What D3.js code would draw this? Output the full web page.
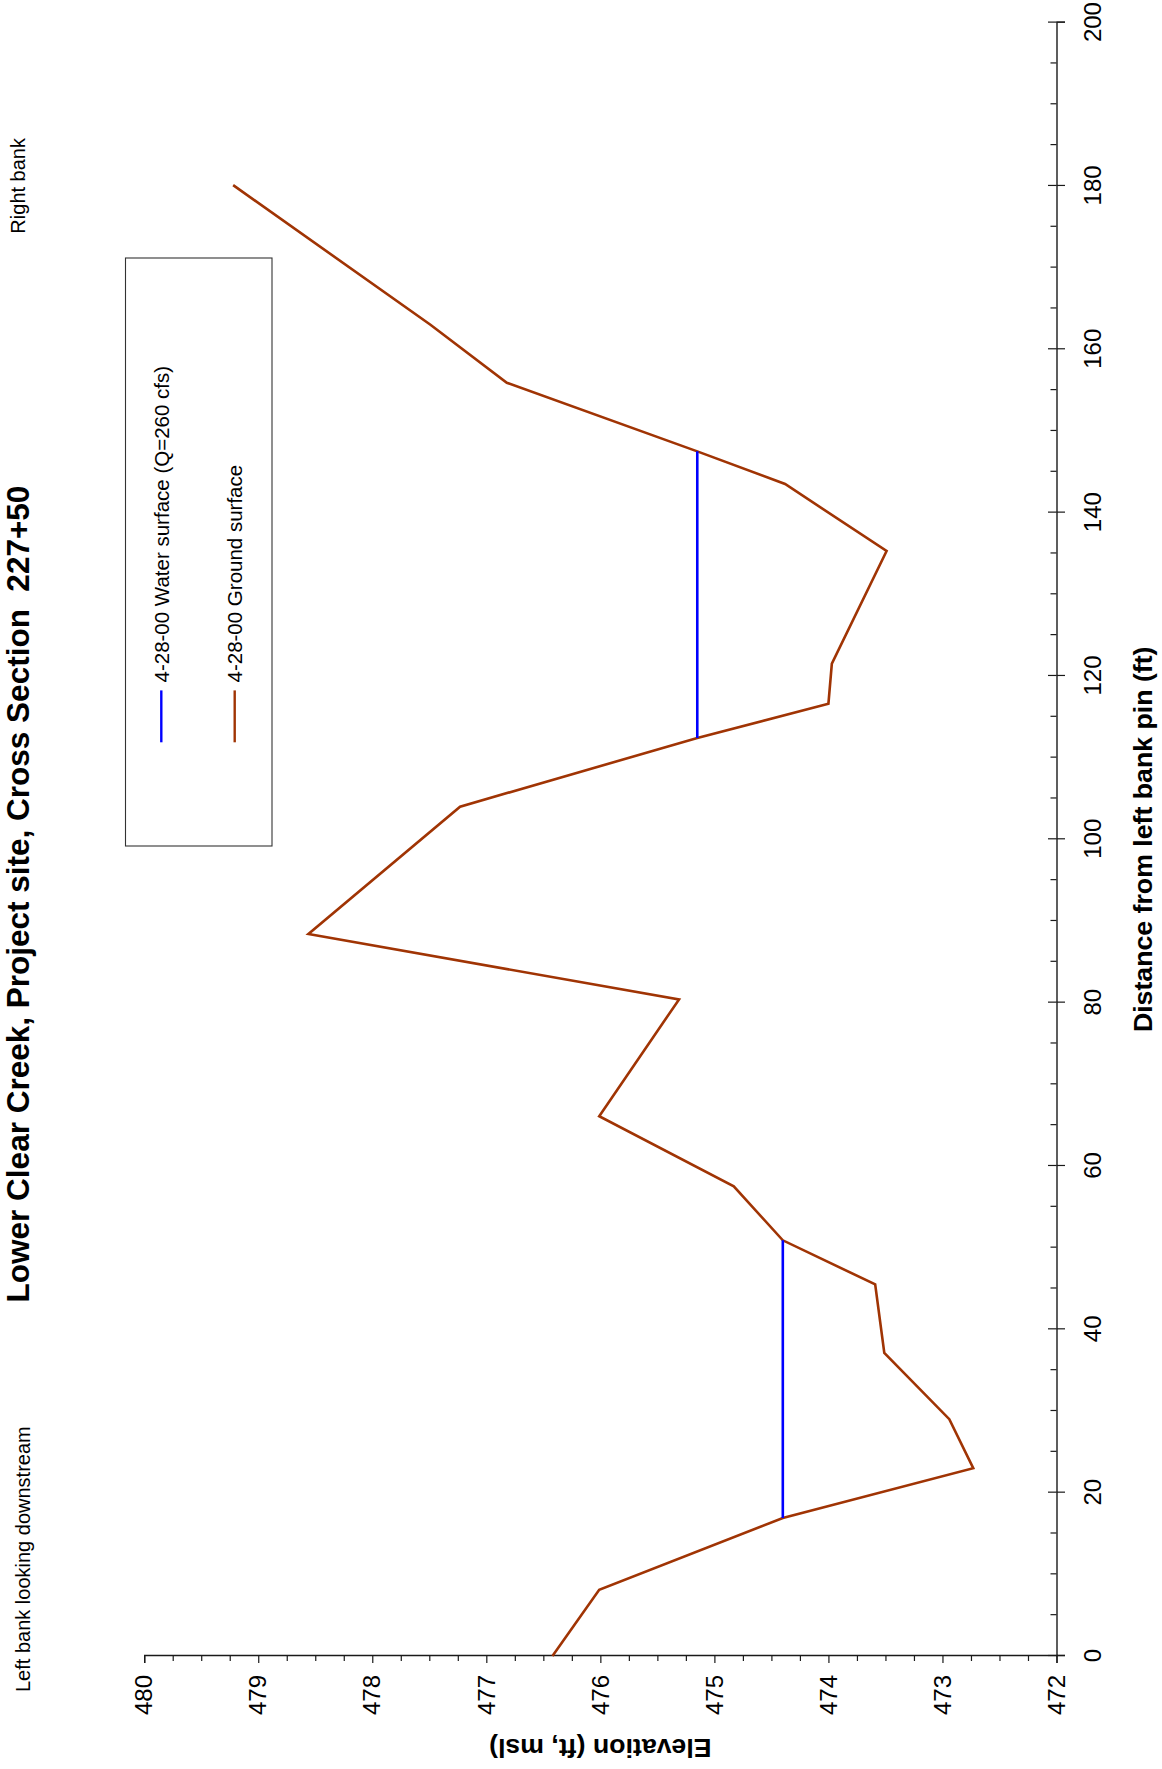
<!DOCTYPE html>
<html>
<head>
<meta charset="utf-8">
<script src="https://cdn.jsdelivr.net/npm/d3@7"></script>
<style>
  html, body { margin: 0; padding: 0; background: #fff; }
  svg { display: block; }
</style>
</head>
<body>
<script>
// Surveyed ground profile across the channel, 4-28-00
const groundDistance = [0, 8.1, 16.9, 23.0, 29.0, 37.1, 45.5, 50.9, 57.5, 66.1, 80.4, 88.4,
                        104.0, 112.4, 116.6, 121.5, 135.3, 143.5, 147.5, 155.9, 163.0, 180.1];
const groundElevation = [476.42, 476.01, 474.40, 472.73, 472.94, 473.51, 473.59, 474.40, 474.83, 476.01, 475.31, 478.56,
                         477.23, 475.15, 474.00, 473.97, 473.49, 474.38, 475.15, 476.82, 477.49, 479.22];

// Water surface in the two wetted channels (start/end distance, elevation)
const waterStart = [16.9, 112.4];
const waterEnd = [50.9, 147.5];
const waterElevation = [474.40, 475.15];

// Axis ticks
const elevationTicks = [472, 473, 474, 475, 476, 477, 478, 479, 480];
const distanceTicks = [0, 20, 40, 60, 80, 100, 120, 140, 160, 180, 200];

// Legend entries
const legendLabels = ["4-28-00 Water surface (Q=260 cfs)", "4-28-00 Ground surface"];
const seriesColors = ["#0000ff", "#a03404"];

const PAGE_W = 1162, PAGE_H = 1769;
const FONT = "'Liberation Sans', Arial, Helvetica, sans-serif";

const svg = d3.select("body").append("svg")
  .attr("width", PAGE_W).attr("height", PAGE_H);

// The sheet is laid out landscape (1769 wide, 1162 tall) and turned a quarter turn counter-clockwise
const g = svg.append("g")
  .attr("transform", `translate(0,${PAGE_H}) rotate(-90)`)
  .style("font-family", FONT);

const x = d3.scaleLinear().domain([0, 200]).range([113, 1746.4]);
const y = d3.scaleLinear().domain([472, 480]).range([1056.5, 144.2]);

const axisColor = "#1a1a1a";

// ---- Elevation axis (left) ----
const minorElev = d3.range(472, 480.001, 0.25).filter(v => Math.abs(v - Math.round(v)) > 1e-6);
g.append("g")
  .attr("transform", `translate(${x(0)},0)`)
  .call(d3.axisLeft(y).tickValues(minorElev).tickSize(5).tickFormat(""))
  .call(a => a.select(".domain").remove())
  .call(a => a.selectAll("line").attr("stroke", axisColor).attr("stroke-width", 1.2));

g.append("g")
  .attr("transform", `translate(${x(0)},0)`)
  .call(d3.axisLeft(y).tickValues(elevationTicks).tickSize(7).tickPadding(12).tickFormat(d3.format("d")))
  .call(a => a.select(".domain").attr("stroke", axisColor).attr("stroke-width", 1.4))
  .call(a => a.selectAll("line").attr("stroke", axisColor).attr("stroke-width", 1.2))
  .call(a => a.selectAll("text").attr("font-size", 24).attr("font-family", FONT).attr("fill", "#000"));

// ---- Distance axis (bottom) ----
const minorDist = d3.range(0, 200.001, 5).filter(v => v % 20 !== 0);
g.append("g")
  .attr("transform", `translate(0,${y(472)})`)
  .call(d3.axisTop(x).tickValues(minorDist).tickSize(6).tickFormat(""))
  .call(a => a.select(".domain").remove())
  .call(a => a.selectAll("line").attr("stroke", axisColor).attr("stroke-width", 1.2));

g.append("g")
  .attr("transform", `translate(0,${y(472)})`)
  .call(d3.axisTop(x).tickValues(distanceTicks).tickSize(8.5).tickFormat(""))
  .call(a => a.select(".domain").remove())
  .call(a => a.selectAll("line").attr("stroke", axisColor).attr("stroke-width", 1.2));

g.append("g")
  .attr("transform", `translate(0,${y(472)})`)
  .call(d3.axisBottom(x).tickValues(distanceTicks).tickSize(8.5).tickPadding(19).tickFormat(d3.format("d")))
  .call(a => a.select(".domain").attr("stroke", axisColor).attr("stroke-width", 1.4))
  .call(a => a.selectAll("line").attr("stroke", axisColor).attr("stroke-width", 1.2))
  .call(a => a.selectAll("text").attr("font-size", 24).attr("font-family", FONT).attr("fill", "#000"));

// ---- Axis titles ----
g.append("text")
  .attr("x", (x(0) + x(200)) / 2).attr("y", 1151.5)
  .attr("text-anchor", "middle")
  .attr("font-size", 26.7).attr("font-weight", "bold")
  .text("Distance from left bank pin (ft)");

g.append("text")
  .attr("transform", `translate(29.6,${(y(472) + y(480)) / 2}) rotate(-90)`)
  .attr("text-anchor", "middle")
  .attr("font-size", 26.7).attr("font-weight", "bold")
  .text("Elevation (ft, msl)");

// ---- Title and bank notes ----
g.append("text")
  .attr("x", 875).attr("y", 29)
  .attr("text-anchor", "middle")
  .attr("font-size", 31.5).attr("font-weight", "bold")
  .style("white-space", "pre")
  .text("Lower Clear Creek, Project site, Cross Section  227+50");

g.append("text")
  .attr("x", 77).attr("y", 30)
  .attr("font-size", 20)
  .text("Left bank looking downstream");

g.append("text")
  .attr("x", 1631).attr("y", 25)
  .attr("text-anchor", "end")
  .attr("font-size", 20)
  .text("Right bank");

// ---- Data ----
const ground = groundDistance.map((d, i) => [d, groundElevation[i]]);
const line = d3.line().x(d => x(d[0])).y(d => y(d[1]));

g.append("path")
  .datum(ground)
  .attr("d", line)
  .attr("fill", "none")
  .attr("stroke", seriesColors[1])
  .attr("stroke-width", 2.6)
  .attr("stroke-linejoin", "miter");

g.selectAll("line.water")
  .data(waterElevation.map((e, i) => ({ x0: waterStart[i], x1: waterEnd[i], e })))
  .join("line")
  .attr("class", "water")
  .attr("x1", d => x(d.x0)).attr("x2", d => x(d.x1))
  .attr("y1", d => y(d.e)).attr("y2", d => y(d.e))
  .attr("stroke", seriesColors[0])
  .attr("stroke-width", 2.6);

// ---- Legend ----
const legend = g.append("g");
legend.append("rect")
  .attr("x", 923).attr("y", 125.5)
  .attr("width", 588).attr("height", 146.5)
  .attr("fill", "#fff").attr("stroke", "#333").attr("stroke-width", 1.1);

const legendRows = [161.3, 234.7];
legendLabels.forEach((label, i) => {
  legend.append("line")
    .attr("x1", 1026.7).attr("x2", 1078.6)
    .attr("y1", legendRows[i]).attr("y2", legendRows[i])
    .attr("stroke", seriesColors[i]).attr("stroke-width", 2.4);
  legend.append("text")
    .attr("x", 1086.5).attr("y", legendRows[i])
    .attr("dy", "0.36em")
    .attr("font-size", 20.5)
    .text(label);
});
</script>
</body>
</html>
